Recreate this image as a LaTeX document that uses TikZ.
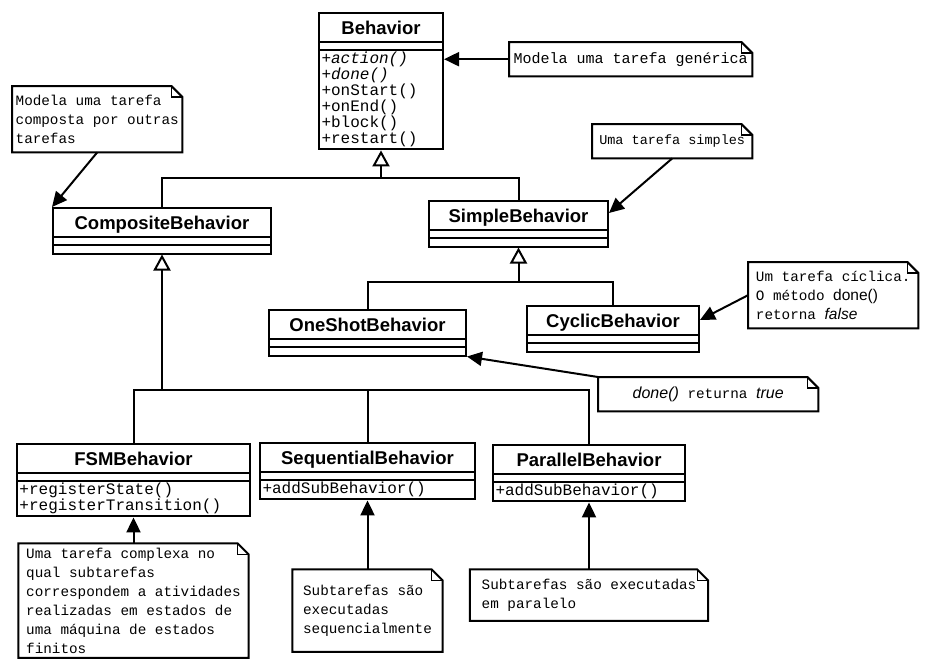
\documentclass[tikz,border=0pt]{standalone}
\usepackage{fontspec}
\setsansfont{Liberation Sans}
\setmonofont{Liberation Mono}
\usepackage{tikz}
\usetikzlibrary{positioning,arrows.meta,shapes.multipart}
\newcommand\clsfont{\sffamily\bfseries\fontsize{18.5}{22}\selectfont}
\newcommand\opfont{\ttfamily\fontsize{16}{16}\selectfont}
\newcommand\notefont{\ttfamily\fontsize{14.3}{19}\selectfont}
\newcommand\titlestrut{\rule[-5pt]{0pt}{24pt}}
\newcommand\nopart{\rule{0pt}{4pt}}
\tikzset{
  umlclass/.style={draw, line width=2pt, rectangle split, rectangle split parts=3,
                   rectangle split part align={center,left,left}, align=left,
                   anchor=north west, inner xsep=2.5pt, inner ysep=1.25pt, font=\opfont},
  notebox/.style={align=left, inner sep=3pt, font=\notefont},
  notearrow/.style={-{Triangle[length=15pt, width=14pt]}, line width=2pt},
  genarrow/.style={-{Triangle[open, length=16pt, width=17pt]}, line width=2pt},
  genline/.style={line width=2pt},
  notefold/.style={line width=1.2pt},
}
\begin{document}
\begin{tikzpicture}[x=1pt, y=-1pt]
\fill[white] (0,0) rectangle (925,664);
\useasboundingbox (0,0) rectangle (925,664);
%% Classes
\node[umlclass, minimum width=124pt] (beh) at (318,12) {\clsfont\titlestrut Behavior
  \nodepart{two}\nopart
  \nodepart{three}\textit{+action()}\\\textit{+done()}\\+onStart()\\+onEnd()\\+block()\\+restart()};
\node[umlclass, minimum width=218pt] (comp) at (52,207) {\clsfont\titlestrut CompositeBehavior
  \nodepart{two}\nopart \nodepart{three}\nopart};
\node[umlclass, minimum width=179pt] (simple) at (428,200) {\clsfont\titlestrut SimpleBehavior
  \nodepart{two}\nopart \nodepart{three}\nopart};
\node[umlclass, minimum width=197pt] (one) at (268,309) {\clsfont\titlestrut OneShotBehavior
  \nodepart{two}\nopart \nodepart{three}\nopart};
\node[umlclass, minimum width=172pt] (cyc) at (526,305) {\clsfont\titlestrut CyclicBehavior
  \nodepart{two}\nopart \nodepart{three}\nopart};
\node[umlclass, minimum width=233pt] (fsm) at (16,443) {\clsfont\titlestrut FSMBehavior
  \nodepart{two}\nopart \nodepart{three}+registerState()\\+registerTransition()};
\node[umlclass, minimum width=215pt] (seq) at (259,442) {\clsfont\titlestrut SequentialBehavior
  \nodepart{two}\nopart \nodepart{three}+addSubBehavior()};
\node[umlclass, minimum width=192pt] (par) at (492,444) {\clsfont\titlestrut ParallelBehavior
  \nodepart{two}\nopart \nodepart{three}+addSubBehavior()};
%% Notes
\node[notebox, anchor=north west, minimum width=243pt, minimum height=34pt,
      font=\ttfamily\fontsize{15}{19}\selectfont] (nBeh) at (509,42) {Modela uma tarefa genérica};
\node[notebox, anchor=north west, minimum width=170pt, minimum height=66pt] (nComp) at (12,86)
  {Modela uma tarefa\\composta por outras\\tarefas};
\node[notebox, anchor=north west, minimum width=160pt, minimum height=34pt,
      font=\ttfamily\fontsize{13.5}{19}\selectfont] (nSimple) at (592,124) {Uma tarefa simples};
\node[notebox, anchor=north west, minimum width=170pt, minimum height=66pt] (nCyclic) at (748,262)
  {Um tarefa cíclica.\\O método {\sffamily\fontsize{15.5}{19}\selectfont done()}\\retorna {\sffamily\itshape\fontsize{15.5}{19}\selectfont false}};
\node[notebox, anchor=north west, minimum width=220pt, minimum height=34pt] (nOneShot) at (598,377)
  {{\sffamily\itshape\fontsize{16}{19}\selectfont done()} returna {\sffamily\itshape\fontsize{16}{19}\selectfont true}};
\node[notebox, minimum width=230pt, minimum height=114pt, below=26pt of fsm] (nFsm)
  {Uma tarefa complexa no\\qual subtarefas\\correspondem a atividades\\realizadas em estados de\\uma máquina de estados\\finitos};
\node[notebox, minimum width=150pt, minimum height=82pt, below=69pt of seq] (nSeq)
  {Subtarefas são\\executadas\\sequencialmente};
\node[notebox, minimum width=238pt, minimum height=51pt, below=67pt of par] (nPar)
  {Subtarefas são executadas\\em paralelo};
\foreach \n in {nBeh,nComp,nSimple,nCyclic,nOneShot,nFsm,nSeq,nPar}{
  \draw[line width=2pt] (\n.north west) -- ([xshift=-11pt]\n.north east)
    -- ([yshift=-11pt]\n.north east) -- (\n.south east) -- (\n.south west) -- cycle;
  \draw[notefold] ([xshift=-11pt]\n.north east) |- ([yshift=-11pt]\n.north east);
}
%% Generalizations
\path (beh.south) ++(0,28) coordinate (jBeh);
\draw[genarrow] (comp.north) |- (jBeh) -- (beh.south);
\draw[genline] (simple.north) |- (jBeh);
\path (simple.south) ++(0,34) coordinate (jSimple);
\draw[genarrow] (one.north) |- (jSimple) -- (simple.south);
\draw[genline] (cyc.north) |- (jSimple);
\path (comp.south) ++(0,135) coordinate (jComp);
\draw[genarrow] (fsm.north) |- (jComp) -- (comp.south);
\draw[genline] (par.north) |- (jComp);
\draw[genline] (seq.north) -- (seq.north |- jComp);
%% Note links
\draw[notearrow] (nBeh.west) -- (nBeh.west -| beh.east);
\draw[notearrow] (nComp.south) -- (comp.north west);
\draw[notearrow] (nSimple.south) -- ([yshift=-13pt]simple.north east);
\draw[notearrow] (nCyclic.west) -- ([yshift=-15pt]cyc.north east);
\draw[notearrow] (nOneShot.north west) -- (one.south east);
\draw[notearrow] (nFsm.north) -- (fsm.south);
\draw[notearrow] (nSeq.north) -- (seq.south);
\draw[notearrow] (nPar.north) -- (par.south);
\end{tikzpicture}
\end{document}
